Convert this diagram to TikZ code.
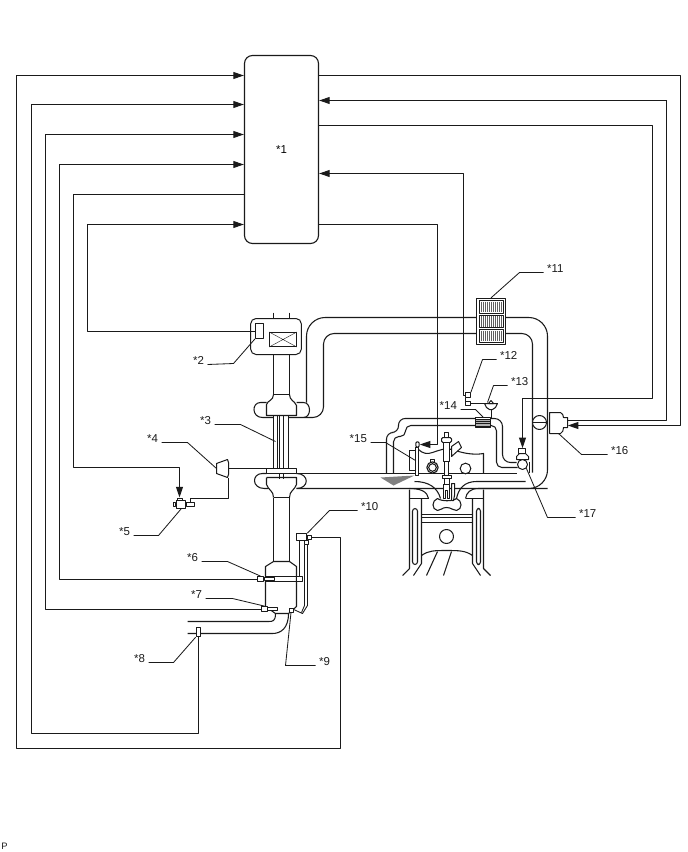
\documentclass[tikz,border=0pt]{standalone}
\usepackage{fontspec}
\setmainfont{Liberation Sans}
\usetikzlibrary{arrows.meta}
\definecolor{ink}{HTML}{1A1A1A}
\tikzset{
  wire/.style={draw=ink,line width=0.75pt},
  sig/.style={wire,-{Triangle[length=8pt,width=5.2pt]}},
  pipe/.style={draw=ink,line width=0.8pt},
  thin pipe/.style={draw=ink,line width=0.65pt},
  part/.style={draw=ink,line width=0.75pt,fill=white},
  lead/.style={draw=ink,line width=0.62pt},
  tagl/.style={font=\fontsize{8.6}{10}\selectfont,inner sep=1pt,anchor=east,text=ink},
  tagr/.style={font=\fontsize{8.6}{10}\selectfont,inner sep=1pt,anchor=west,text=ink},
  hatch/.style={draw=ink!70,line width=0.3pt}
}
\begin{document}
\begin{tikzpicture}[x=0.75pt,y=-0.75pt,line join=round]
\path[use as bounding box] (0,0) rectangle (688,852);
\begin{scope}[shift={(0.5,0.5)}]
\node[draw=ink,line width=0.85pt,rounded corners=6pt,minimum width=55.5pt,minimum height=141pt,inner sep=0pt,font=\fontsize{8.6}{10}\selectfont] (ecu) at (281,149) {*1};
\node[font=\fontsize{7}{8}\selectfont,inner sep=0pt,text=ink] (pmark) at (4,846) {P};

% ---------- intake / charge-air pipes
\draw[pipe,rounded corners=14pt] (306,402) -- (306,317) -- (547,317) -- (547,488) -- (296,488);
\draw[pipe,rounded corners=8pt] (303,417) -- (323,417) -- (323,333) -- (532,333) -- (532,472);
\draw[pipe] (529,461) -- (529,472);
\draw[pipe] (296,473) -- (516,473);
% ports
\draw[pipe] (525,481) -- (476,481) .. controls (464,481) and (458,488) .. (456,498);
\draw[pipe] (547,488) -- (478,488) .. controls (470,488) and (466,492) .. (465,498);
\draw[pipe] (414,481) .. controls (428,481) and (437,487) .. (440,498);
\draw[pipe] (409,488) .. controls (420,488) and (427,491) .. (428,498);
% EGR
\draw[pipe,rounded corners=5pt] (386,473) -- (386,432) -- (398,432) -- (398,418) -- (475,418);
\draw[pipe,rounded corners=4pt] (393,473) -- (393,436) -- (405,436) -- (405,425) -- (475,425);
\draw[pipe,rounded corners=6pt] (490,418) -- (502,418) -- (502,462) -- (516,462);
\draw[pipe,rounded corners=4pt] (490,425) -- (496,425) -- (496,467) -- (517,467);

% ---------- throttle & intake column
\draw[pipe] (273,312) -- (273,394) (289,312) -- (289,394);
\node[part,rounded corners=4pt,minimum width=38pt,minimum height=27pt,inner sep=0pt] (thr) at (275.5,336) {};
\node[part,minimum width=6pt,minimum height=11pt,inner sep=0pt] (maf) at (259,330.5) {};
\node[part,minimum width=20pt,minimum height=10.5pt,inner sep=0pt] (tv) at (282.5,339) {};
\draw[line width=0.3pt,draw=ink] (tv.north west) -- (tv.south east) (tv.north east) -- (tv.south west);

% ---------- turbo
\draw[pipe] (273,394) .. controls (273,400) and (267,400) .. (266,404) -- (266,415) -- (296,415) -- (296,405) .. controls (294,400) and (289,400) .. (289,394);
\draw[pipe] (273,394) -- (289,394);
\draw[pipe] (266,402) -- (260,402) .. controls (251,402) and (251,417) .. (262,417) -- (273,417);
\draw[pipe] (296,402) -- (303,402) .. controls (311,402) and (311,417) .. (303,417) -- (288,417);
\draw[thin pipe] (273,415) -- (273,468) (277,415) -- (277,468) (279,415) -- (279,478) (283,415) -- (283,478) (288,415) -- (288,468);
\node[part,minimum width=22.5pt,minimum height=3.5pt,inner sep=0pt] (tplate) at (281,470.5) {};
\draw[pipe] (266,473) -- (262,473) .. controls (251,473) and (251,488) .. (264,488) -- (268,488);
\draw[pipe] (296,473) .. controls (309,473) and (309,488) .. (296,488);
\draw[pipe] (266,477) -- (266,484) .. controls (268,490) and (273,490) .. (273,497) (266,477) -- (296,477) -- (296,484) .. controls (294,490) and (289,490) .. (289,497);
\draw[pipe] (273,497) -- (289,497);
\draw[pipe] (273,497) -- (273,561) (289,497) -- (289,561);

% ---------- catalyst and exhaust
\draw[pipe,fill=white] (273,561) -- (265,566) -- (265,606) -- (275,613) -- (288,613) -- (296,606) -- (296,566) -- (289,561) -- cycle;
\draw[thin pipe] (265,576) -- (296,576) (265,581) -- (296,581);
\draw[pipe] (275,613) .. controls (275,621) and (272,621) .. (268,621) -- (187,621);
\draw[pipe] (288,613) .. controls (288,628) and (280,633) .. (272,633) -- (187,633);
% sensor 10 tubes
\draw[thin pipe] (299,576) -- (299,535);
\draw[thin pipe] (304,541) -- (304,605) -- (301,612);
\draw[thin pipe] (307,541) -- (307,605) -- (302,613) -- (291,608);
\node[part,minimum width=3pt,minimum height=3pt,inner sep=0pt] (s9) at (290.5,609.5) {};
\node[part,minimum width=5pt,minimum height=3.6pt,inner sep=0pt] (s6b) at (299,578.5) {};
\node[part,minimum width=8pt,minimum height=5pt,inner sep=0pt] (s10) at (301,536.5) {};
\node[part,minimum width=3.5pt,minimum height=3pt,inner sep=0pt] (s10a) at (309,536.5) {};
\node[part,minimum width=3.5pt,minimum height=3pt,inner sep=0pt] (s10b) at (306,542) {};
\node[part,minimum width=8pt,minimum height=2pt,inner sep=0pt] (s6t) at (269,578.5) {};
\node[part,minimum width=4.5pt,minimum height=3.6pt,inner sep=0pt] (s6) at (260,578.5) {};
\node[part,minimum width=8pt,minimum height=2pt,inner sep=0pt] (s7t) at (272,608.5) {};
\node[part,minimum width=4.5pt,minimum height=3.6pt,inner sep=0pt] (s7) at (264,608.5) {};
\node[part,minimum width=3.5pt,minimum height=7pt,inner sep=0pt] (s8) at (198,631.5) {};

% ---------- boost control
\node[part,minimum width=6pt,minimum height=2.5pt,inner sep=0pt] (s5r) at (189.5,504) {};
\node[part,minimum width=6.5pt,minimum height=6pt,inner sep=0pt] (s5) at (180.5,504) {};
\node[part,minimum width=2.2pt,minimum height=3.5pt,inner sep=0pt] (s5l) at (174,504) {};
\node[part,minimum width=3.5pt,minimum height=1.5pt,inner sep=0pt] (s5t) at (179.5,499) {};
\draw[part] (216,463) -- (227,459) -- (228,462) -- (228,474) -- (227,477) -- (216,473) -- cycle;
\coordinate (s4) at (216,468);
\draw[wire] (228,468) -- (tplate.west |- 0,468);
\draw[wire] (s5r.north) -- (189.5,498) -- (228,498) -- (228,477);

% ---------- intercooler
\node[draw=ink,line width=0.95pt,fill=white,minimum width=21.75pt,minimum height=34.5pt,inner sep=0pt] (ic) at (490.5,321) {};
\foreach \yy in {300,314.5,329} {
  \draw[ink,line width=0.55pt,fill=white] (479,\yy) rectangle (503,\yy+12.5);
  \foreach \xx in {481,483,...,502} \draw[hatch] (\xx,\yy+1) -- (\xx,\yy+11.5);
}

% ---------- engine
\draw[pipe] (409,489) -- (409,568) -- (402,575) (483,489) -- (483,568) -- (490,575);
\draw[pipe] (421,498) -- (421,563) -- (413,575) (472,498) -- (472,563) -- (480,575);
\draw[pipe] (409,489) -- (409,498) -- (428,498) (483,489) -- (483,498) -- (465,498);
\draw[pipe,rounded corners=2pt] (412,508) rectangle (417,564);
\draw[pipe,rounded corners=2pt] (476,508) rectangle (480,564);
\draw[pipe] (421,514) -- (472,514) (421,517) -- (472,517) (421,522) -- (472,522);
\draw[pipe] (421,555) .. controls (428,550) and (434,550) .. (446,550) .. controls (458,550) and (465,550) .. (472,555);
\draw[pipe] (437,551) -- (426,575) (451,551) -- (443,575);
\node[part,circle,minimum size=10.5pt,inner sep=0pt] (pin) at (446,536) {};
\draw[pipe,fill=white] (437,498) .. controls (431,500) and (431,509) .. (437,510) .. controls (441,510) and (441,507) .. (446,507) .. controls (451,507) and (452,510) .. (456,510) .. controls (462,509) and (462,500) .. (456,498) .. controls (452,501) and (441,501) .. (437,498) -- cycle;
% head
\draw[pipe] (418,449) .. controls (422,453) and (427,454) .. (432,452) .. controls (438,450) and (445,447) .. (452,449) .. controls (460,452) and (472,455) .. (483,453) -- (483,473);
\node[part,circle,line width=0.85pt,minimum size=8.5pt,inner sep=0pt] (cam) at (432,467) {};
\draw[pipe] (430,462) -- (430,459) -- (434,459) -- (434,462);
\draw[pipe] (432,467) circle (3.8);
\node[part,circle,minimum size=8pt,inner sep=0pt] (cam2) at (465,468) {};

% ---------- injector
\draw[part] (451,446) -- (458,441) -- (461,447) -- (451,456) -- cycle;
\draw[part] (444,432) rectangle (448,437);
\draw[part,rounded corners=1pt] (441,437) rectangle (451,442);
\draw[part] (443,442) -- (449,442) -- (449,461) -- (443,461) -- cycle;
\draw[part] (444,461) rectangle (448,475);
\draw[part] (442,475) rectangle (451,478);
\draw[part] (444,478) rectangle (449,484);
\draw[part] (443,484) -- (449,484) -- (449,498) -- (447,498) -- (447,490) -- (445,490) -- (445,498) -- (443,498) -- cycle;
\draw[part] (451,483) -- (454,483) -- (454,495) -- (453,500) -- (451,500) -- cycle;
% spark plug & coil
\draw[part] (409,450) rectangle (416,470);
\draw[part] (415,447) rectangle (418,475);
\node[part,minimum width=2.6pt,minimum height=4pt,inner sep=0pt,rounded corners=1pt] (s15top) at (417,444) {};
\fill[gray] (380,477) -- (414,475) -- (393,485) -- cycle;

% ---------- EGR parts
\node[part,minimum width=11pt,minimum height=7.5pt,inner sep=0pt] (s14) at (482.5,422) {};
\draw[ink,line width=0.4pt,fill=gray!60] (475,418.5) rectangle (490,425.5);
\draw[ink,line width=0.4pt] (475,420.5) -- (490,420.5) (475,423) -- (490,423);
\draw[wire] (491,408) -- (491,418);
\draw[part] (484,403) -- (497,403) -- (495,407) -- (492,409) -- (489,409) -- (486,407) -- cycle;
\coordinate (s13) at (487,402);
\draw[part] (490.5,400) -- (488,403) -- (493,403) -- cycle;
\node[part,minimum width=3.6pt,minimum height=3.4pt,inner sep=0pt] (s12a) at (467.5,394.5) {};
\node[part,minimum width=3.6pt,minimum height=3.4pt,inner sep=0pt] (s12b) at (467.5,403) {};
\draw[wire] (s12b.east) -- (s13 |- s12b.east);
\draw[wire] (465,397) -- (465,401);

% ---------- valves 16, 17
\node[part,circle,minimum size=10.5pt,inner sep=0pt] (c16) at (539,422) {};
\draw[wire] (c16.west) -- (c16.east);
\draw[part] (549,412) -- (560,412) .. controls (562,413) and (563,415) .. (563,417) -- (567,417) -- (567,427) -- (563,427) .. controls (563,430) and (562,432) .. (560,433) -- (549,433) -- cycle;
\node[inner sep=0pt,minimum size=0pt] (s16) at (567,425) {};
\node[inner sep=0pt,minimum size=0pt] (s16b) at (567,420) {};
\draw[part] (518,448) rectangle (525,453);
\draw[part] (519,453) -- (525,453) -- (528,456) -- (528,459) -- (516,459) -- (516,456) -- cycle;
\node[inner sep=0pt,minimum size=0pt] (s17) at (522,448) {};
\node[part,circle,minimum size=7.5pt,inner sep=0pt] (c17) at (522,464) {};

% ---------- wiring to ECU
\draw[sig] (s10a.east) -- (340,536.5) -- (340,748) -- (16,748) -- (16,75) -- (ecu.west |- 0,75);
\draw[sig] (s8.south) -- (198,733) -- (31,733) -- (31,104) -- (ecu.west |- 0,104);
\draw[sig] (s7.west) -- (45,608.5) -- (45,134) -- (ecu.west |- 0,134);
\draw[sig] (s6.west) -- (59,578.5) -- (59,164) -- (ecu.west |- 0,164);
\draw[sig] (ecu.west |- 0,194) -- (73,194) -- (73,467) -- (179,467) -- (179,497);
\draw[sig] (maf.west) -- (87,330.5) -- (87,224) -- (ecu.west |- 0,224);
\draw[sig] (ecu.east |- 0,75) -- (680,75) -- (680,425) -- (s16);
\draw[wire] (s16b) -- (666,420) -- (666,100);
\draw[sig] (666,100) -- (ecu.east |- 0,100);
\draw[sig] (ecu.east |- 0,125) -- (652,125) -- (652,398) -- (522,398) -- (s17);
\draw[sig] (465,395) -- (463,395) -- (463,173) -- (ecu.east |- 0,173);
\draw[sig] (ecu.east |- 0,224) -- (437,224) -- (437,444) -- (s15top.east);

% ---------- labels and leaders
\node[tagl] (l2) at (205,360) {*2};
\draw[lead] ([yshift=-3pt]l2.east) ++(2,0) -- (233,363) -- (maf.south west);
\node[tagl] (l3) at (212,420) {*3};
\draw[lead] ([yshift=-3pt]l3.east) ++(2,0) -- (240,424) -- (275,441);
\node[tagl] (l4) at (159,438) {*4};
\draw[lead] ([yshift=-3pt]l4.east) ++(2,0) -- (187,442) -- (s4);
\node[tagl] (l5) at (131,531) {*5};
\draw[lead] ([yshift=-3pt]l5.east) ++(2,0) -- (158,535) -- (s5.south);
\node[tagl] (l6) at (199,557) {*6};
\draw[lead] ([yshift=-3pt]l6.east) ++(2,0) -- (227,561) -- (s6.north);
\node[tagl] (l7) at (203,594) {*7};
\draw[lead] ([yshift=-3pt]l7.east) ++(2,0) -- (232,598) -- (s7.north);
\node[tagl] (l8) at (146,658) {*8};
\draw[lead] ([yshift=-3pt]l8.east) ++(2,0) -- (173,662) -- (s8.south west);
\node[tagr] (l9) at (317,661) {*9};
\draw[lead] ([yshift=-3pt]l9.west) ++(-2,0) -- (285,665) -- (s9.south);
\node[tagr] (l10) at (359,506) {*10};
\draw[lead] ([yshift=-3pt]l10.west) ++(-2,0) -- (329,510) -- (s10.north east);
\node[tagr] (l11) at (545,268) {*11};
\draw[lead] ([yshift=-3pt]l11.west) ++(-2,0) -- (519,272) -- (ic.north);
\node[tagr] (l12) at (498,355) {*12};
\draw[lead] ([yshift=-3pt]l12.west) ++(-2,0) -- (482,359) -- (s12a.north east);
\node[tagr] (l13) at (509,381) {*13};
\draw[lead] ([yshift=-3pt]l13.west) ++(-2,0) -- (493,385) -- (s13);
\node[tagl] (l14) at (458,405) {*14};
\draw[lead] ([yshift=-3pt]l14.east) ++(2,0) -- (475,409) -- (s14.north);
\node[tagl] (l15) at (368,438) {*15};
\draw[lead] ([yshift=-3pt]l15.east) ++(2,0) -- (385,442) -- (415,460);
\node[tagr] (l16) at (609,450) {*16};
\draw[lead] ([yshift=-3pt]l16.west) ++(-2,0) -- (581,454) -- (558,433);
\node[tagr] (l17) at (577,513) {*17};
\draw[lead] ([yshift=-3pt]l17.west) ++(-2,0) -- (547,517) -- (c17.south east);
\end{scope}
\end{tikzpicture}
\end{document}
